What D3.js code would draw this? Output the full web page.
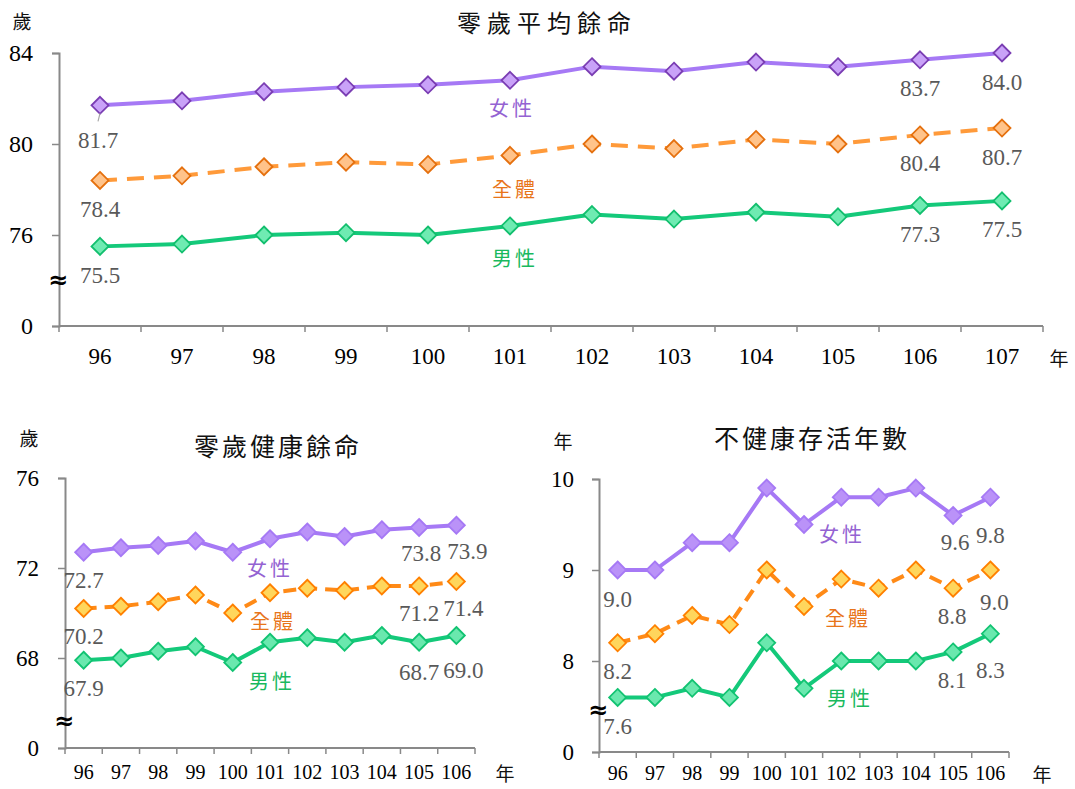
<!DOCTYPE html>
<html>
<head>
<meta charset="utf-8">
<script src="https://cdn.jsdelivr.net/npm/d3@7"></script>
<style>
  html, body { margin: 0; padding: 0; background: #fff; }
  svg { display: block; }
</style>
</head>
<body>
<svg id="chart" width="1075" height="789"></svg>
<script>
// ---- data ----
const lifeYears = ["96","97","98","99","100","101","102","103","104","105","106","107"];
const lifeFemale = [81.7, 81.9, 82.3, 82.5, 82.6, 82.8, 83.4, 83.2, 83.6, 83.4, 83.7, 84.0];
const lifeTotal  = [78.4, 78.6, 79.0, 79.2, 79.1, 79.5, 80.0, 79.8, 80.2, 80.0, 80.4, 80.7];
const lifeMale   = [75.5, 75.6, 76.0, 76.1, 76.0, 76.4, 76.9, 76.7, 77.0, 76.8, 77.3, 77.5];
const lifeTicks = [72, 76, 80, 84];
const lifeTickLabels = ["0", "76", "80", "84"];

const healthYears = ["96","97","98","99","100","101","102","103","104","105","106"];
const healthyFemale = [72.7, 72.9, 73.0, 73.2, 72.7, 73.3, 73.6, 73.4, 73.7, 73.8, 73.9];
const healthyTotal  = [70.2, 70.3, 70.5, 70.8, 70.0, 70.9, 71.1, 71.0, 71.2, 71.2, 71.4];
const healthyMale   = [67.9, 68.0, 68.3, 68.5, 67.8, 68.7, 68.9, 68.7, 69.0, 68.7, 69.0];
const healthyTicks = [64, 68, 72, 76];
const healthyTickLabels = ["0", "68", "72", "76"];

const unhealthyFemale = [9.0, 9.0, 9.3, 9.3, 9.9, 9.5, 9.8, 9.8, 9.9, 9.6, 9.8];
const unhealthyTotal  = [8.2, 8.3, 8.5, 8.4, 9.0, 8.6, 8.9, 8.8, 9.0, 8.8, 9.0];
const unhealthyMale   = [7.6, 7.6, 7.7, 7.6, 8.2, 7.7, 8.0, 8.0, 8.0, 8.1, 8.3];
const unhealthyTicks = [7, 8, 9, 10];
const unhealthyTickLabels = ["0", "8", "9", "10"];

const seriesNames = ["女性", "全體", "男性"];

// ---- styles ----
const NUM_FONT = "'Liberation Serif', 'Times New Roman', serif";
const CJK_FONT = "'Noto Sans CJK TC', 'Noto Sans CJK SC', sans-serif";
const AXIS_COLOR = "#898989";
const LABEL_COLOR = "#595959";

const svg = d3.select("#chart");

function drawPanel(cfg) {
  const g = svg.append("g");
  const x = d3.scaleBand().domain(cfg.years).range([cfg.left, cfg.right]).padding(0);
  const y = d3.scaleLinear().domain(cfg.domain).range([cfg.bottom, cfg.top]);

  // title and unit
  g.append("text").attr("x", cfg.titleX).attr("y", cfg.titleY)
    .attr("text-anchor", "middle").attr("dominant-baseline", "central")
    .style("font-family", CJK_FONT).style("font-size", cfg.titleSize + "px")
    .style("letter-spacing", cfg.titleSpacing + "px").attr("fill", "#111")
    .text(cfg.title);
  g.append("text").attr("x", cfg.unitX).attr("y", cfg.unitY)
    .attr("text-anchor", "middle").attr("dominant-baseline", "central")
    .style("font-family", CJK_FONT).style("font-size", "19px").attr("fill", "#111")
    .text(cfg.unit);
  g.append("text").attr("x", cfg.yearX).attr("y", cfg.yearY)
    .attr("text-anchor", "middle").attr("dominant-baseline", "central")
    .style("font-family", CJK_FONT).style("font-size", "19px").attr("fill", "#111")
    .text("年");

  // y axis
  const yAxis = d3.axisLeft(y).tickValues(cfg.ticks)
    .tickFormat((d, i) => cfg.tickLabels[i]).tickSize(7).tickPadding(cfg.yPad);
  const ya = g.append("g").attr("transform", `translate(${cfg.left},0)`).call(yAxis);
  ya.select(".domain").attr("stroke", AXIS_COLOR).attr("stroke-width", 2);
  ya.selectAll(".tick line").attr("stroke", AXIS_COLOR).attr("stroke-width", 1.5);
  ya.selectAll(".tick text").style("font-family", NUM_FONT)
    .style("font-size", cfg.tickSize + "px").attr("fill", "#000");

  // x axis: labels at category centres, ticks on category boundaries
  const xAxis = d3.axisBottom(x).tickSize(0).tickPadding(cfg.xPad);
  const xa = g.append("g").attr("transform", `translate(0,${cfg.bottom})`).call(xAxis);
  xa.select(".domain").remove();
  xa.selectAll(".tick text").style("font-family", NUM_FONT)
    .style("font-size", cfg.xTickSize + "px").attr("fill", "#000");
  g.append("line").attr("x1", cfg.left).attr("x2", cfg.right)
    .attr("y1", cfg.bottom).attr("y2", cfg.bottom)
    .attr("stroke", AXIS_COLOR).attr("stroke-width", 2);
  const bounds = cfg.years.map(d => x(d)).concat([x(cfg.years[cfg.years.length - 1]) + x.bandwidth()]);
  g.selectAll(".xtick").data(bounds).join("line")
    .attr("x1", d => d).attr("x2", d => d)
    .attr("y1", cfg.bottom).attr("y2", cfg.bottom + 6)
    .attr("stroke", AXIS_COLOR).attr("stroke-width", 1.5);

  // axis break mark
  g.append("text").attr("x", cfg.left - 1).attr("y", cfg.breakY)
    .attr("text-anchor", "middle").attr("dominant-baseline", "central")
    .style("font-family", "'DejaVu Sans', sans-serif").style("font-size", "24px")
    .style("font-weight", "bold").attr("fill", "#000")
    .text("≈");

  const cx = d => x(d) + x.bandwidth() / 2;

  cfg.series.forEach((s, si) => {
    const pts = cfg.years.map((yr, i) => ({ yr, v: s.values[i], i }));
    const line = d3.line().x(d => cx(d.yr)).y(d => y(d.v));
    g.append("path").datum(pts).attr("d", line)
      .attr("fill", "none").attr("stroke", s.line).attr("stroke-width", cfg.lineWidth)
      .attr("stroke-dasharray", s.dash || null).attr("stroke-linejoin", "round");
    const m = cfg.marker;
    g.selectAll(".m" + si).data(pts).join("path")
      .attr("d", `M0,${-m}L${m},0L0,${m}L${-m},0Z`)
      .attr("transform", d => `translate(${cx(d.yr)},${y(d.v)})`)
      .attr("fill", s.fill).attr("stroke", s.stroke).attr("stroke-width", 1.8);

    // value labels
    cfg.labelIdx.forEach(i => {
      const off = (cfg.labelOff[si] && cfg.labelOff[si][i]) || [0, cfg.labelDy];
      g.append("text").attr("x", cx(cfg.years[i]) + off[0]).attr("y", y(s.values[i]) + off[1])
        .attr("text-anchor", "middle").attr("dominant-baseline", "central")
        .style("font-family", NUM_FONT).style("font-size", cfg.valueSize + "px")
        .attr("fill", LABEL_COLOR).text(s.values[i].toFixed(1));
    });

    // series name
    g.append("text").attr("x", s.nameX).attr("y", s.nameY)
      .attr("text-anchor", "middle").attr("dominant-baseline", "central")
      .style("font-family", CJK_FONT).style("font-size", "20px")
      .style("letter-spacing", "3px").attr("fill", s.nameColor)
      .text(seriesNames[si]);
  });

  if (cfg.leader) {
    const s = cfg.series[0];
    const px = cx(cfg.years[0]);
    g.append("line").attr("x1", px).attr("x2", px - 2)
      .attr("y1", y(s.values[0]) + 8).attr("y2", y(s.values[0]) + 16)
      .attr("stroke", "#a6a6a6").attr("stroke-width", 1.2);
  }
}

// ---- 零歲平均餘命 ----
drawPanel({
  title: "零歲平均餘命", titleX: 547, titleY: 21, titleSize: 24, titleSpacing: 6,
  unit: "歲", unitX: 22, unitY: 20, yearX: 1059, yearY: 357,
  years: lifeYears, domain: [72, 84], ticks: lifeTicks, tickLabels: lifeTickLabels,
  left: 59, right: 1043, top: 53, bottom: 326,
  yPad: 19, xPad: 22, tickSize: 24, xTickSize: 23, valueSize: 23,
  breakY: 280, lineWidth: 4, marker: 8.5, labelDy: 29, leader: true,
  labelIdx: [0, 10, 11],
  labelOff: [{ 0: [-2, 35] }, {}, {}],
  series: [
    { values: lifeFemale, line: "#A679F5", fill: "#C9A2F8", stroke: "#7A3DB3",
      nameX: 512, nameY: 107, nameColor: "#9463D2" },
    { values: lifeTotal, line: "#FF9A3A", fill: "#FFC38A", stroke: "#E5700E", dash: "17,10",
      nameX: 515, nameY: 188, nameColor: "#E8751A" },
    { values: lifeMale, line: "#14C97A", fill: "#6FEBB2", stroke: "#12BF6E",
      nameX: 515, nameY: 257, nameColor: "#19B95E" }
  ]
});

// ---- 零歲健康餘命 ----
drawPanel({
  title: "零歲健康餘命", titleX: 278, titleY: 445, titleSize: 25, titleSpacing: 3,
  unit: "歲", unitX: 29, unitY: 437, yearX: 505, yearY: 772,
  years: healthYears, domain: [64, 76], ticks: healthyTicks, tickLabels: healthyTickLabels,
  left: 65, right: 475, top: 478, bottom: 748,
  yPad: 19, xPad: 17, tickSize: 23, xTickSize: 20, valueSize: 23,
  breakY: 721, lineWidth: 4, marker: 8.5, labelDy: 28,
  labelIdx: [0, 9, 10],
  labelOff: [{ 10: [11, 26], 9: [2, 26] }, { 10: [7, 27], 9: [0, 27] }, { 10: [7, 35], 9: [0, 30] }],
  series: [
    { values: healthyFemale, line: "#A679F5", fill: "#BA92F8", stroke: "#A679F5",
      nameX: 270, nameY: 567, nameColor: "#9463D2" },
    { values: healthyTotal, line: "#FF8A17", fill: "#FFD65C", stroke: "#FF8000", dash: "13,8",
      nameX: 273, nameY: 620, nameColor: "#E8751A" },
    { values: healthyMale, line: "#14C97A", fill: "#6AE8AE", stroke: "#12C372",
      nameX: 272, nameY: 680, nameColor: "#19B95E" }
  ]
});

// ---- 不健康存活年數 ----
drawPanel({
  title: "不健康存活年數", titleX: 812, titleY: 437, titleSize: 25, titleSpacing: 3,
  unit: "年", unitX: 563, unitY: 440, yearX: 1042, yearY: 773,
  years: healthYears, domain: [7, 10], ticks: unhealthyTicks, tickLabels: unhealthyTickLabels,
  left: 599, right: 1009, top: 479, bottom: 752,
  yPad: 18, xPad: 14, tickSize: 23, xTickSize: 20, valueSize: 23,
  breakY: 710, lineWidth: 4, marker: 8.5, labelDy: 29,
  labelIdx: [0, 9, 10],
  labelOff: [{ 10: [0, 38], 9: [2, 27] }, { 10: [4, 32], 9: [-1, 28] }, { 10: [0, 37], 9: [-1, 29] }],
  series: [
    { values: unhealthyFemale, line: "#A679F5", fill: "#BA92F8", stroke: "#A679F5",
      nameX: 842, nameY: 533, nameColor: "#9463D2" },
    { values: unhealthyTotal, line: "#FF8A17", fill: "#FFD65C", stroke: "#FF8000", dash: "13,8",
      nameX: 848, nameY: 617, nameColor: "#E8751A" },
    { values: unhealthyMale, line: "#14C97A", fill: "#6AE8AE", stroke: "#12C372",
      nameX: 850, nameY: 697, nameColor: "#19B95E" }
  ]
});
</script>
</body>
</html>
